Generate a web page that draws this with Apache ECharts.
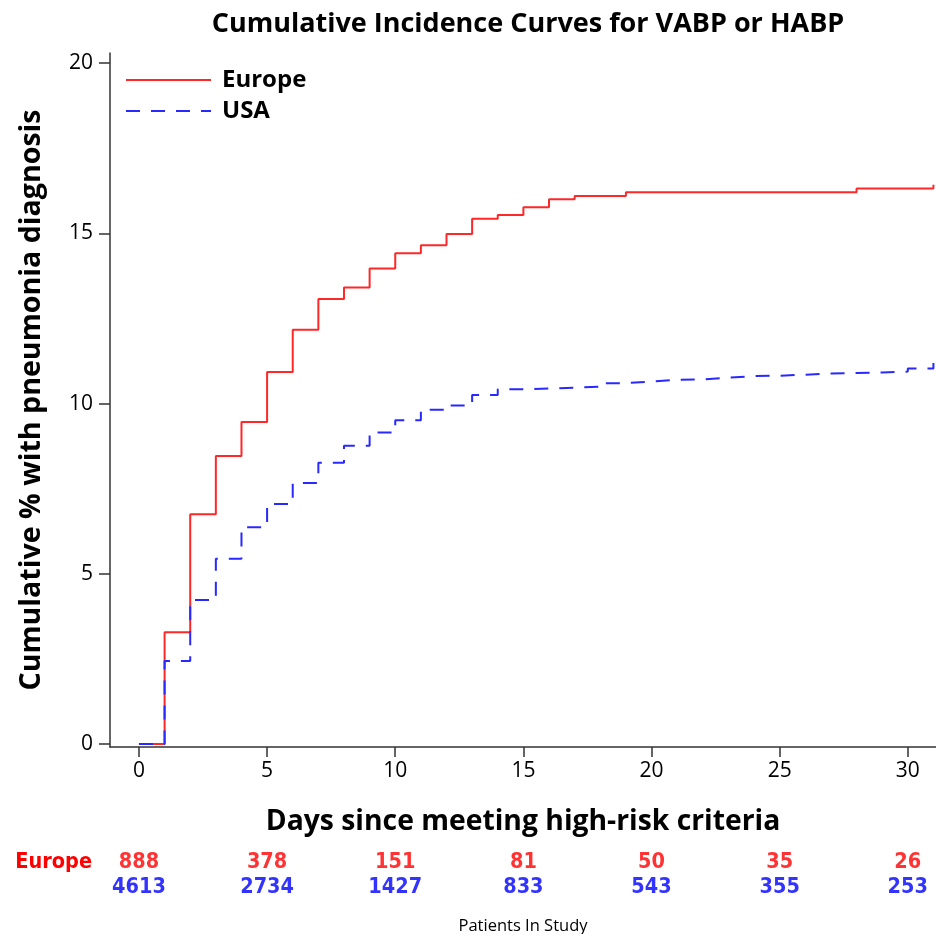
<!DOCTYPE html>
<html>
<head>
<meta charset="utf-8">
<script src="https://cdn.jsdelivr.net/npm/echarts@6/dist/echarts.min.js"></script>
<style>html,body{margin:0;padding:0;background:#fff}#c{width:936px;height:934px}</style>
</head>
<body>
<div id="c"></div>
<script>
const days = [0,1,2,3,4,5,6,7,8,9,10,11,12,13,14,15,16,17,18,19,20,21,22,23,24,25,26,27,28,29,30,31];
const europe = [0,3.28,6.75,8.46,9.46,10.93,12.17,13.07,13.41,13.97,14.42,14.65,14.98,15.43,15.54,15.77,16.0,16.1,16.1,16.21,16.21,16.21,16.21,16.21,16.21,16.21,16.21,16.21,16.32,16.32,16.32,16.43];
const usa = [0,2.44,4.23,5.44,6.37,7.05,7.67,8.26,8.76,9.15,9.51,9.82,9.94,10.25,10.42,10.44,10.47,10.50,10.60,10.65,10.70,10.71,10.76,10.81,10.82,10.85,10.88,10.90,10.91,10.94,11.03,11.19];
const xTicks = [0,5,10,15,20,25,30];
const yTicks = [0,5,10,15,20];
const riskDays = [0,5,10,15,20,25,30];
const europeAtRisk = [888,378,151,81,50,35,26];
const usaAtRisk = [4613,2734,1427,833,543,355,253];
const groups = ['Europe','USA'];

const RED = '#ff0000', BLUE = '#0000ff';
const LRED = '#ff2828', LBLUE = '#2828ff';
const chart = echarts.init(document.getElementById('c'), null, {renderer:'canvas'});
const narrow = '"DejaVu Sans Condensed", "Open Sans", sans-serif';
const sans = '"Open Sans", sans-serif';

const riskData = [];
riskDays.forEach((d,i)=>{ riskData.push({value:[d,'Europe',europeAtRisk[i]], label:{color:RED}}); });
riskDays.forEach((d,i)=>{ riskData.push({value:[d,'USA',usaAtRisk[i]], label:{color:BLUE}}); });

chart.setOption({
  animation:false,
  backgroundColor:'#fff',
  title:{text:'Cumulative Incidence Curves for VABP or HABP', left:523, textAlign:'center', top:6,
    textStyle:{fontFamily:sans, fontWeight:'bold', fontSize:27, color:'#000'}},
  legend:{orient:'vertical', left:120, top:63, itemWidth:85, itemHeight:24, itemGap:7,
    data:['Europe','USA'],
    itemStyle:{color:'rgba(0,0,0,0)', borderColor:'rgba(0,0,0,0)', borderWidth:0, opacity:0},
    textStyle:{fontFamily:sans, fontWeight:'bold', fontSize:24, color:'#000', padding:[0,0,0,6]}},
  grid:[{left:110, right:0, top:53, bottom:187, containLabel:false},
        {left:110, right:0, top:850, height:50}],
  xAxis:[{type:'value', gridIndex:0, min:-1.13, max:31.1,
    name:'Days since meeting high-risk criteria', nameLocation:'middle', nameGap:61,
    nameTextStyle:{fontFamily:sans, fontWeight:'bold', fontSize:28.3, color:'#000'},
    axisLine:{show:true, onZero:false, lineStyle:{color:'#333', width:1.5}},
    axisTick:{show:true, length:10, customValues:xTicks, lineStyle:{color:'#333', width:1.5}},
    axisLabel:{customValues:xTicks, fontFamily:sans, fontSize:21, color:'#000', margin:14},
    splitLine:{show:false}},
   {type:'value', gridIndex:1, min:-1.13, max:31.1, show:false}],
  yAxis:[{type:'value', gridIndex:0, min:-0.09, max:20.3,
    name:'Cumulative % with pneumonia diagnosis', nameLocation:'middle', nameGap:64, nameRotate:90,
    nameTextStyle:{fontFamily:sans, fontWeight:'bold', fontSize:28.6, color:'#000'},
    axisLine:{show:true, onZero:false, lineStyle:{color:'#333', width:1.5}},
    axisTick:{show:true, length:11, customValues:yTicks, lineStyle:{color:'#333', width:1.5}},
    axisLabel:{customValues:yTicks, fontFamily:sans, fontSize:21, color:'#000', margin:17},
    splitLine:{show:false}},
   {type:'category', gridIndex:1, data:groups, inverse:true,
    axisLine:{show:false}, axisTick:{show:false}, splitLine:{show:false},
    axisLabel:{margin:18, fontFamily:narrow, fontWeight:'bold', fontSize:21.5,
      formatter:v=> v==='Europe' ? '{e|'+v+'}' : '{u|'+v+'}',
      rich:{e:{color:RED, fontFamily:narrow, fontWeight:'bold', fontSize:21.5},
            u:{color:BLUE, fontFamily:narrow, fontWeight:'bold', fontSize:21.5}}}}],
  series:[
    {name:'Europe', type:'line', xAxisIndex:0, yAxisIndex:0, step:'end', symbol:'none', clip:true,
     data:days.map((d,i)=>[d,europe[i]]), color:LRED,
     lineStyle:{color:LRED, width:2, type:'solid'}},
    {name:'USA', type:'line', xAxisIndex:0, yAxisIndex:0, step:'end', symbol:'none', clip:true,
     data:days.map((d,i)=>[d,usa[i]]), color:LBLUE,
     lineStyle:{color:LBLUE, width:2, type:[14,11]}},
    {name:'risk', type:'scatter', xAxisIndex:1, yAxisIndex:1, symbolSize:1, itemStyle:{color:'rgba(0,0,0,0)'},
     silent:true, data:riskData,
     label:{show:true, position:'inside', formatter:p=>String(p.value[2]),
       fontFamily:narrow, fontWeight:'bold', fontSize:21.5}}
  ],
  graphic:[{type:'text', x:523, y:918,
    style:{text:'Patients In Study', fontFamily:sans, fontSize:16.5, fill:'#000', textAlign:'center'}}]
});
</script>
</body>
</html>
